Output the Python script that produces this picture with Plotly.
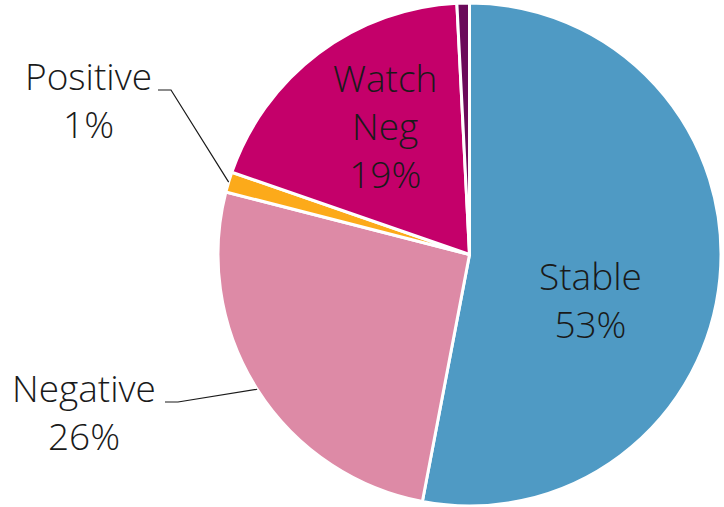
import math
import plotly.graph_objects as go

# ---- data ----
categories = ["Stable", "Negative", "Positive", "Watch Neg", "Watch Pos"]
values = [53.0, 26.0, 1.3, 18.9, 0.8]
colors = ["#4f9ac4", "#dd8aa6", "#fcaa1a", "#c4006a", "#6b0a5a"]
display_names = {"Stable": "Stable", "Negative": "Negative", "Positive": "Positive",
                 "Watch Neg": "Watch<br>Neg"}
labelled = ["Stable", "Negative", "Positive", "Watch Neg"]
outside_labels = ["Positive", "Negative"]

W, H = 724, 507
FONT = "Open Sans"
FSIZE = 37
TXT = "#1a1a1a"
total = sum(values)
pct = [v / total for v in values]

dom_x = [217 / W, 722 / W]
dom_y = [1 - 506 / H, 1 - 3 / H]
fig = go.Figure(go.Pie(
    labels=categories,
    values=values,
    textinfo="none",
    sort=False,
    direction="clockwise",
    rotation=0,
    marker=dict(colors=colors, line=dict(color="white", width=3)),
    domain=dict(x=dom_x, y=dom_y),
    showlegend=False,
    hoverinfo="label+percent",
))

# pie geometry in pixels
cx_px = (dom_x[0] + dom_x[1]) / 2 * W
cy_px = (1 - (dom_y[0] + dom_y[1]) / 2) * H
r_px = min((dom_x[1] - dom_x[0]) * W, (dom_y[1] - dom_y[0]) * H) / 2

# label placements (pixels)
label_pos = {
    "Stable": dict(x=590, y=299),
    "Watch Neg": dict(x=385, y=125),
    "Positive": dict(x=88, y=99, line_y=90, x0=158, x1=171),
    "Negative": dict(x=84, y=411, line_y=402, x0=165, x1=178),
}

cum = 0.0
mids = {}
for c, p in zip(categories, pct):
    mids[c] = (cum + p / 2) * 2 * math.pi
    cum += p

shapes = []
annotations = []
for c in labelled:
    i = categories.index(c)
    lp = label_pos[c]
    if c in outside_labels:
        th = mids[c]
        ex = cx_px + r_px * math.sin(th)
        ey = cy_px - r_px * math.cos(th)
        path = (f"M {lp['x0']/W},{1-lp['line_y']/H} L {lp['x1']/W},{1-lp['line_y']/H} "
                f"L {ex/W},{1-ey/H}")
        shapes.append(dict(type="path", xref="paper", yref="paper", path=path,
                           line=dict(color=TXT, width=1.2)))
    annotations.append(dict(
        xref="paper", yref="paper", x=lp["x"]/W, y=1-lp["y"]/H,
        xanchor="center", yanchor="middle", showarrow=False,
        text=f"{display_names[c]}<br>{round(pct[i]*100)}%",
        font=dict(family=FONT, size=FSIZE, color=TXT, weight=300),
    ))

fig.update_layout(
    width=W, height=H,
    margin=dict(l=0, r=0, t=0, b=0),
    paper_bgcolor="white",
    plot_bgcolor="white",
    shapes=shapes,
    annotations=annotations,
)
fig.write_html("out.html", config={"displayModeBar": False},
               post_script="document.body.style.margin='0';")
